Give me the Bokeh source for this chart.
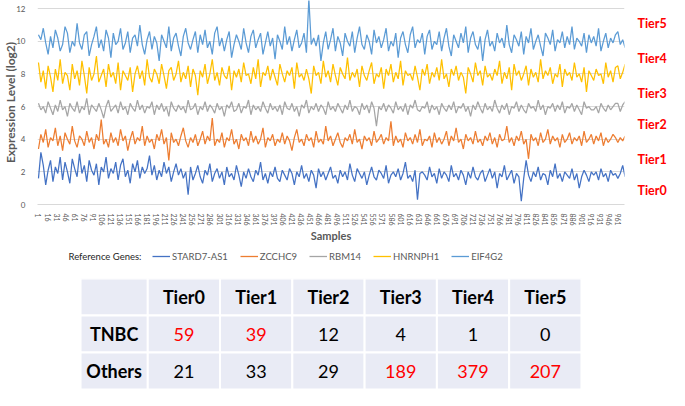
from bokeh.plotting import figure
from bokeh.models import Range1d, FixedTicker, Legend, LegendItem, Label, ColumnDataSource, LinearAxis
from bokeh.layouts import column
from bokeh.embed import file_html
from bokeh.resources import INLINE
from bokeh.core.properties import value

# ---------------- data ----------------
genes = ["STARD7-AS1", "ZCCHC9", "RBM14", "HNRNPH1", "EIF4G2"]
colors = ["#4472C4", "#ED7D31", "#A5A5A5", "#FFC000", "#5B9BD5"]
sample_step = 4  # every 4th sample

stard7_as1 = [
    1.6, 3.2, 2.4, 1.2, 2.1, 2.7, 1.4, 2.3, 1.9, 2.9,
    1.5, 2.6, 2.0, 1.3, 2.8, 2.2, 1.7, 3.1, 1.9, 2.4,
    1.4, 2.7, 2.1, 1.8, 2.5, 1.2, 2.3, 2.0, 2.9, 1.6,
    2.2, 1.9, 2.6, 1.5, 2.4, 2.8, 1.7, 2.1, 1.3, 2.5,
    2.0, 2.7, 1.6, 2.3, 1.9, 2.2, 3.0, 1.8, 2.4, 1.5,
    2.1, 1.7, 2.6, 1.9, 2.3, 1.4, 2.0, 2.5, 1.8, 2.2,
    1.6, 2.0, 0.6, 2.3, 1.5, 1.9, 2.4, 1.7, 1.3, 2.1,
    1.8, 2.5, 1.4, 1.9, 2.2, 1.6, 2.0, 1.2, 2.3, 1.7,
    1.9, 1.5, 2.4, 1.8, 1.1, 2.0, 1.6, 2.2, 1.7, 1.4,
    2.1, 1.8, 2.6, 1.5, 1.9, 1.3, 2.0, 1.7, 2.3, 1.6,
    1.4, 2.1, 1.8, 1.5, 2.2, 1.9, 1.2, 2.0, 1.7, 2.4,
    1.6, 1.9, 1.4, 2.1, 1.8, 1.0, 2.2, 1.7, 2.0, 1.5,
    1.9, 2.3, 1.6, 1.8, 1.3, 2.1, 1.7, 2.0, 1.5, 2.5,
    1.8, 1.4, 2.2, 1.9, 1.6, 2.0, 1.2, 1.8, 2.3, 1.7,
    1.5, 2.1, 1.9, 1.6, 2.4, 1.3, 1.8, 2.0, 1.7, 2.2,
    1.5, 1.9, 2.6, 1.6, 1.8, 1.4, 2.1, 0.3, 1.9, 2.0,
    1.8, 1.5, 2.3, 1.7, 1.9, 1.3, 2.2, 1.6, 2.0, 1.8,
    1.4, 2.4, 1.7, 1.9, 1.5, 2.1, 1.8, 1.2, 2.0, 1.6,
    2.3, 1.7, 1.5, 1.9, 2.1, 1.4, 1.8, 2.2, 1.6, 2.0,
    1.0, 1.9, 1.7, 2.4, 1.5, 1.8, 2.1, 1.3, 1.9, 1.7,
    0.2, 1.6, 2.7, 1.8, 1.4, 2.0, 1.7, 2.3, 1.5, 1.9,
    1.8, 1.2, 2.1, 1.7, 2.5, 1.6, 1.9, 1.4, 2.0, 1.8,
    1.6, 2.2, 1.5, 1.9, 1.0, 1.7, 2.1, 1.8, 1.4, 2.0,
    1.8, 2.0, 1.5, 2.2, 1.7, 1.9, 1.4, 2.1, 1.8, 1.9,
    1.6, 1.9, 2.4, 1.7,
]

zcchc9 = [
    3.4, 4.3, 3.8, 4.6, 3.5, 4.1, 3.9, 4.7, 3.6, 4.2,
    3.3, 4.4, 4.0, 3.7, 4.8, 3.9, 3.5, 4.2, 4.0, 3.6,
    4.5, 3.8, 4.1, 3.4, 4.3, 3.9, 5.2, 3.7, 4.0, 3.5,
    4.4, 3.8, 4.1, 3.6, 4.6, 3.9, 4.2, 3.3, 4.0, 4.5,
    3.7, 4.1, 3.9, 4.8, 3.6, 4.2, 3.8, 4.0, 3.4, 4.3,
    3.9, 4.6, 3.7, 4.1, 2.7, 4.4, 3.8, 4.0, 3.6, 4.2,
    4.7, 3.9, 3.5, 4.1, 3.8, 4.3, 3.6, 4.0, 4.5, 3.7,
    4.2, 3.9, 5.3, 3.6, 4.0, 3.8, 4.4, 3.5, 4.1, 3.9,
    4.6, 3.7, 4.0, 3.4, 4.3, 3.9, 4.1, 3.6, 4.5, 3.8,
    4.2, 3.7, 4.0, 4.7, 3.5, 4.1, 3.9, 4.3, 3.6, 4.0,
    3.8, 4.4, 3.7, 4.2, 3.9, 3.3, 4.1, 4.6, 3.8, 4.0,
    3.6, 4.3, 3.9, 4.1, 3.5, 4.5, 3.8, 4.0, 3.7, 4.8,
    3.9, 4.2, 3.6, 4.0, 4.4, 3.8, 3.5, 4.1, 3.9, 4.3,
    3.7, 4.6, 3.8, 4.0, 3.4, 4.2, 3.9, 4.1, 3.6, 4.5,
    3.8, 4.0, 4.3, 3.7, 4.1, 3.9, 5.1, 3.6, 4.2, 3.8,
    4.0, 3.5, 4.4, 3.9, 4.1, 3.7, 4.3, 3.8, 4.6, 3.6,
    4.0, 3.9, 4.2, 3.5, 4.4, 3.8, 4.1, 3.7, 4.0, 4.5,
    3.6, 4.2, 3.9, 4.7, 3.8, 4.0, 3.4, 4.3, 3.9, 4.1,
    3.7, 4.5, 3.8, 4.0, 3.6, 4.2, 3.9, 4.4, 3.7, 4.1,
    3.5, 4.3, 3.9, 4.0, 4.8, 3.8, 4.1, 3.6, 4.2, 3.9,
    4.5, 3.7, 4.0, 2.8, 4.3, 3.9, 4.1, 3.6, 4.4, 3.8,
    4.0, 4.6, 3.7, 4.2, 3.9, 4.1, 3.5, 4.3, 3.8, 4.0,
    4.4, 3.7, 4.1, 3.9, 4.2, 3.6, 4.5, 3.8, 4.0, 4.3,
    3.7, 4.2, 3.9, 4.4, 3.6, 4.1, 3.8, 4.0, 4.3, 4.1,
    3.8, 4.1, 3.9, 4.2,
]

rbm14 = [
    6.2, 5.8, 6.0, 5.6, 6.3, 5.9, 5.5, 6.1, 5.7, 6.4,
    5.8, 6.0, 5.4, 6.2, 5.9, 5.7, 6.3, 5.6, 6.0, 5.8,
    6.5, 5.5, 6.1, 5.9, 5.7, 6.2, 5.8, 5.3, 6.0, 6.4,
    5.7, 5.9, 6.1, 5.6, 6.3, 5.8, 6.0, 5.5, 6.2, 5.9,
    5.7, 6.4, 5.8, 6.1, 5.6, 6.0, 5.9, 6.3, 5.5, 6.1,
    5.8, 6.2, 5.7, 6.0, 5.4, 6.3, 5.9, 5.7, 6.1, 5.8,
    6.0, 5.6, 6.4, 5.8, 5.9, 6.2, 5.5, 6.0, 5.8, 6.3,
    5.7, 6.1, 5.9, 5.6, 6.2, 5.8, 6.0, 5.4, 6.1, 5.9,
    6.3, 5.7, 5.8, 6.2, 5.6, 6.0, 5.9, 6.4, 5.5, 6.1,
    5.8, 6.0, 5.7, 6.3, 5.9, 5.6, 6.2, 5.8, 6.0, 5.7,
    6.1, 5.5, 6.3, 5.9, 5.8, 6.2, 5.7, 6.0, 5.4, 6.1,
    5.9, 6.4, 5.6, 6.0, 5.8, 6.2, 5.7, 6.1, 5.9, 5.5,
    6.3, 5.8, 6.0, 5.7, 6.2, 5.9, 5.6, 6.1, 5.8, 6.4,
    5.7, 6.0, 5.9, 5.5, 6.2, 5.8, 6.1, 5.6, 6.3, 5.9,
    4.8, 6.0, 5.8, 6.2, 5.7, 6.1, 5.9, 5.6, 6.3, 5.8,
    6.0, 5.7, 6.2, 5.5, 6.1, 5.9, 6.4, 5.8, 5.7, 6.0,
    5.9, 6.3, 5.6, 6.1, 5.8, 6.0, 5.5, 6.2, 5.9, 5.7,
    6.1, 5.8, 6.3, 5.6, 6.0, 5.9, 6.2, 5.7, 6.0, 5.4,
    6.1, 5.8, 6.3, 5.9, 5.6, 6.2, 5.8, 6.0, 5.7, 6.4,
    5.9, 5.6, 6.1, 5.8, 6.2, 5.5, 6.0, 5.9, 6.3, 5.7,
    6.1, 5.8, 5.6, 6.2, 5.9, 6.0, 5.7, 6.4, 5.8, 6.1,
    5.5, 6.0, 5.9, 6.2, 5.7, 6.1, 5.8, 6.3, 5.6, 6.0,
    5.9, 6.2, 5.7, 6.1, 5.8, 5.5, 6.3, 5.9, 6.0, 5.8,
    5.8, 6.0, 5.6, 6.2, 5.9, 5.7, 6.1, 5.8, 6.0, 6.2,
    6.2, 5.7, 6.1, 6.3,
]

hnrnph1 = [
    8.7, 7.5, 8.2, 7.1, 8.5, 7.8, 6.9, 8.3, 7.6, 8.9,
    7.4, 8.1, 7.9, 7.0, 8.6, 7.7, 8.2, 7.3, 8.8, 7.9,
    6.8, 8.4, 7.6, 8.0, 9.1, 7.5, 7.9, 8.3, 7.2, 8.6,
    7.8, 8.1, 7.4, 8.7, 7.0, 8.2, 7.9, 7.6, 8.4, 6.9,
    8.0, 8.5, 7.7, 8.2, 7.3, 8.9, 7.8, 7.5, 8.3, 8.0,
    7.4, 8.6, 7.9, 7.1, 8.2, 8.4, 7.6, 8.0, 8.8, 7.5,
    8.1, 7.7, 8.5, 7.2, 8.3, 7.9, 6.7, 8.2, 7.8, 8.6,
    7.4, 8.0, 8.9, 7.6, 8.1, 7.3, 8.4, 7.9, 7.7, 8.5,
    7.0, 8.2, 7.8, 8.3, 7.5, 8.7, 7.9, 8.0, 7.4, 8.4,
    7.7, 8.9, 7.2, 8.1, 7.9, 8.5, 7.6, 8.3, 7.8, 7.3,
    8.6, 8.0, 7.5, 8.2, 7.9, 8.4, 7.1, 8.7, 7.8, 8.0,
    7.6, 8.3, 7.7, 6.8, 8.5, 7.9, 8.1, 7.4, 8.8, 7.8,
    8.2, 7.5, 8.6, 7.9, 7.3, 8.4, 8.0, 7.7, 9.0, 7.6,
    8.1, 7.8, 8.3, 7.2, 8.5, 7.9, 7.6, 8.2, 8.7, 7.4,
    8.0, 7.8, 8.4, 7.1, 8.3, 7.9, 8.6, 7.5, 8.1, 7.7,
    8.8, 7.3, 8.2, 7.9, 8.0, 7.6, 8.5, 7.8, 7.0, 8.3,
    7.9, 8.6, 7.4, 8.1, 7.8, 8.4, 7.6, 8.9, 7.7, 8.0,
    7.2, 8.3, 7.9, 8.5, 7.6, 8.1, 7.8, 6.8, 8.4, 8.0,
    7.5, 8.7, 7.9, 8.2, 7.3, 8.5, 7.8, 8.0, 7.6, 8.3,
    7.9, 8.8, 7.4, 8.1, 7.7, 8.4, 7.0, 8.6, 7.9, 8.2,
    7.6, 8.0, 8.5, 7.3, 8.3, 7.8, 8.1, 7.5, 8.9, 7.7,
    8.2, 7.9, 8.4, 7.4, 8.0, 7.8, 8.6, 7.2, 8.3, 7.9,
    8.1, 7.6, 8.7, 7.8, 8.0, 7.5, 8.4, 6.9, 8.2, 7.9,
    7.6, 8.3, 7.9, 8.0, 7.4, 8.7, 7.8, 8.2, 7.5, 8.4,
    8.5, 7.7, 8.1, 8.6,
]

eif4g2 = [
    10.4, 10.1, 10.8, 9.9, 9.2, 10.3, 9.6, 10.7, 10.2, 9.4,
    9.8, 10.9, 10.5, 9.3, 10.0, 9.7, 11.1, 9.9, 9.5, 10.4,
    10.6, 9.1, 9.8, 10.3, 10.9, 9.6, 10.1, 9.4, 10.7, 10.2,
    9.0, 10.5, 9.8, 10.0, 10.8, 9.5, 9.9, 10.6, 9.3, 10.2,
    10.4, 9.7, 11.0, 9.8, 9.2, 10.1, 10.6, 9.5, 10.3, 9.9,
    8.8, 10.4, 10.0, 9.6, 10.9, 9.4, 10.2, 10.5, 9.7, 9.1,
    10.3, 10.8, 9.9, 9.5, 10.1, 10.6, 9.3, 10.4, 9.8, 10.7,
    9.6, 10.0, 9.2, 10.5, 10.9, 9.7, 10.2, 9.4, 10.1, 10.6,
    9.0, 9.8, 10.4, 10.0, 9.5, 10.8, 9.9, 9.3, 10.3, 10.7,
    9.6, 10.1, 10.5, 9.2, 9.9, 10.6, 9.7, 10.2, 8.9, 10.4,
    10.0, 9.5, 10.9, 9.8, 10.3, 9.4, 10.1, 10.7, 9.6, 9.9,
    10.5, 9.3, 12.6, 9.8, 10.2, 9.7, 10.4, 8.8, 9.9, 10.6,
    9.5, 10.1, 10.8, 9.4, 10.3, 9.9, 9.1, 10.5, 10.0, 9.7,
    10.6, 9.3, 10.2, 10.9, 9.8, 9.5, 10.4, 10.0, 9.2, 10.7,
    9.9, 10.3, 9.6, 10.1, 10.8, 9.4, 10.0, 9.7, 10.5, 9.0,
    10.2, 10.6, 9.8, 9.3, 10.4, 10.9, 9.6, 10.1, 9.9, 10.5,
    9.2, 10.3, 10.7, 9.5, 10.0, 9.8, 10.6, 9.4, 10.2, 10.8,
    9.7, 9.1, 10.4, 10.0, 9.6, 10.5, 9.9, 10.9, 9.3, 10.2,
    10.6, 9.8, 9.5, 10.3, 8.8, 10.1, 10.7, 9.7, 10.0, 9.4,
    10.5, 9.9, 10.2, 9.6, 11.0, 9.8, 9.3, 10.4, 10.1, 9.7,
    10.6, 9.2, 10.3, 9.9, 10.8, 9.5, 10.0, 10.4, 9.7, 9.1,
    10.5, 10.2, 9.8, 10.7, 9.4, 10.1, 9.9, 10.6, 9.6, 10.3,
    9.8, 10.9, 9.5, 10.2, 10.0, 9.7, 10.5, 9.3, 10.4, 9.9,
    10.3, 9.7, 10.8, 9.4, 10.0, 10.5, 9.6, 10.2, 9.9, 10.4,
    10.6, 9.8, 10.1, 9.6,
]

series = [stard7_as1, zcchc9, rbm14, hnrnph1, eif4g2]
x_tick_labels = list(range(1, 962, 15))
y_ticks = [0, 2, 4, 6, 8, 10, 12]

tier_names = ["Tier5", "Tier4", "Tier3", "Tier2", "Tier1", "Tier0"]
tier_label_y = [11.1, 8.97, 6.8, 4.9, 2.74, 0.87]

table_cols = ["Tier0", "Tier1", "Tier2", "Tier3", "Tier4", "Tier5"]
table_rows = ["TNBC", "Others"]
tnbc_counts = [59, 39, 12, 4, 1, 0]
others_counts = [21, 33, 29, 189, 379, 207]
tnbc_red = [True, True, False, False, False, False]
others_red = [False, False, False, True, True, True]

FONT = "Lato"
GRAY_TXT = "#595959"
W = 669
BL, BR = 32, 37          # shared left / right borders (column aligns them)
FRAME_W = W - BL - BR

# ---------------- line chart ----------------
p = figure(width=W, height=244, output_backend="svg", toolbar_location=None,
           x_range=Range1d(-0.6, 972), y_range=Range1d(0, 12.5),
           min_border_left=BL, min_border_right=BR, min_border_top=0, min_border_bottom=38)
p.outline_line_color = None

for vals, col in zip(series, colors):
    xs = [1 + sample_step * i for i in range(len(vals))]
    p.line(xs, vals, line_color=col, line_width=1.25)

p.xgrid.grid_line_color = None
p.ygrid.grid_line_color = "#D9D9D9"
p.ygrid.ticker = FixedTicker(ticks=y_ticks)

p.yaxis.ticker = FixedTicker(ticks=y_ticks)
p.yaxis.axis_line_color = None
p.yaxis.major_tick_line_color = None
p.yaxis.minor_tick_line_color = None
p.yaxis.major_label_text_font = FONT
p.yaxis.major_label_text_font_size = "8px"
p.yaxis.major_label_text_color = GRAY_TXT
p.yaxis.major_label_standoff = 6
p.yaxis.axis_label = "Expression Level (log2)"
p.yaxis.axis_label_text_font = FONT
p.yaxis.axis_label_text_font_size = "12px"
p.yaxis.axis_label_text_font_style = "bold"
p.yaxis.axis_label_text_color = GRAY_TXT
p.yaxis.axis_label_standoff = -5

p.xaxis.ticker = FixedTicker(ticks=x_tick_labels)
p.xaxis.axis_line_color = "#D9D9D9"
p.xaxis.major_tick_line_color = None
p.xaxis.minor_tick_line_color = None
p.xaxis.major_label_orientation = "vertical"
p.xaxis.major_label_text_font = FONT
p.xaxis.major_label_text_font_size = "7px"
p.xaxis.major_label_text_color = GRAY_TXT
p.xaxis.major_label_standoff = 3
p.xaxis.axis_label = "Samples"
p.xaxis.axis_label_text_font = FONT
p.xaxis.axis_label_text_font_size = "11px"
p.xaxis.axis_label_text_font_style = "bold"
p.xaxis.axis_label_text_color = GRAY_TXT
p.xaxis.axis_label_standoff = 0

# tier labels on a right-hand axis
tier_axis = LinearAxis(ticker=FixedTicker(ticks=tier_label_y),
                       major_label_overrides={yv: n for yv, n in zip(tier_label_y, tier_names)},
                       axis_line_color=None, major_tick_line_color=None, minor_tick_line_color=None,
                       major_label_standoff=7, major_label_text_font=FONT,
                       major_label_text_font_size="12.5px", major_label_text_font_style="bold",
                       major_label_text_color="#FF0000")
p.add_layout(tier_axis, "right")

# ---------------- legend strip ----------------
lg = figure(width=W, height=28, output_backend="svg", toolbar_location=None,
            x_range=Range1d(0, 1), y_range=Range1d(0, 1),
            min_border_left=BL, min_border_right=BR, min_border_top=0, min_border_bottom=0,
            x_axis_location=None, y_axis_location=None)
lg.outline_line_color = None
lg.xgrid.grid_line_color = None
lg.ygrid.grid_line_color = None
nan = float("nan")
swatches = [lg.line([nan], [nan], line_color=c, line_width=1.3) for c in colors]
legend = Legend(items=[LegendItem(label=g, renderers=[r]) for g, r in zip(genes, swatches)],
                orientation="horizontal", location=(115, 6),
                glyph_width=18, glyph_height=20, label_standoff=2, spacing=12,
                padding=0, margin=0, border_line_color=None, background_fill_alpha=0,
                label_text_font=FONT, label_text_font_size="9.5px", label_text_color=GRAY_TXT)
lg.add_layout(legend, "center")
lg.add_layout(Label(x=31, y=16, x_units="screen", y_units="screen", text="Reference Genes:",
                    text_font=FONT, text_font_size="9.5px", text_color="#262626",
                    text_baseline="middle"))

# ---------------- table ----------------
label_w = 0.93
ncol = len(table_cols)
unit = 512 / (label_w + ncol)          # px per column
tbl_left = 76 - BL                     # table left edge inside the frame (px)
t = figure(width=W, height=117, output_backend="svg", toolbar_location=None,
           x_range=Range1d(-tbl_left / unit, (FRAME_W - tbl_left) / unit), y_range=Range1d(3, 0),
           min_border_left=BL, min_border_right=BR, min_border_top=6, min_border_bottom=0,
           x_axis_location=None, y_axis_location=None)
t.outline_line_color = None
t.xgrid.grid_line_color = None
t.ygrid.grid_line_color = None

cx, cy, cw, txt, tcol, tstyle = [], [], [], [], [], []
cx.append(label_w / 2); cy.append(0.5); cw.append(label_w); txt.append(""); tcol.append("black"); tstyle.append("bold")
for j, c in enumerate(table_cols):
    cx.append(label_w + j + 0.5); cy.append(0.5); cw.append(1.0); txt.append(c); tcol.append("black"); tstyle.append("bold")
for ri, (rname, counts, reds) in enumerate(zip(table_rows, [tnbc_counts, others_counts], [tnbc_red, others_red])):
    yy = ri + 1.5
    cx.append(label_w / 2); cy.append(yy); cw.append(label_w); txt.append(rname); tcol.append("black"); tstyle.append("bold")
    for j, (v, red) in enumerate(zip(counts, reds)):
        cx.append(label_w + j + 0.5); cy.append(yy); cw.append(1.0); txt.append(str(v))
        tcol.append("#FF0000" if red else "black"); tstyle.append("normal")

src = ColumnDataSource(dict(x=cx, y=cy, w=cw, text=txt, color=tcol, style=tstyle))
t.rect(x="x", y="y", width="w", height=1.0, source=src, fill_color="#E9EBF5",
       line_color="white", line_width=2)
t.text(x="x", y="y", text="text", source=src, text_color="color", text_font_style="style",
       text_font=value(FONT), text_font_size="18px", text_align="center", text_baseline="middle")

layout = column(p, lg, t, spacing=0)
open("out.html", "w").write(file_html(layout, INLINE))
